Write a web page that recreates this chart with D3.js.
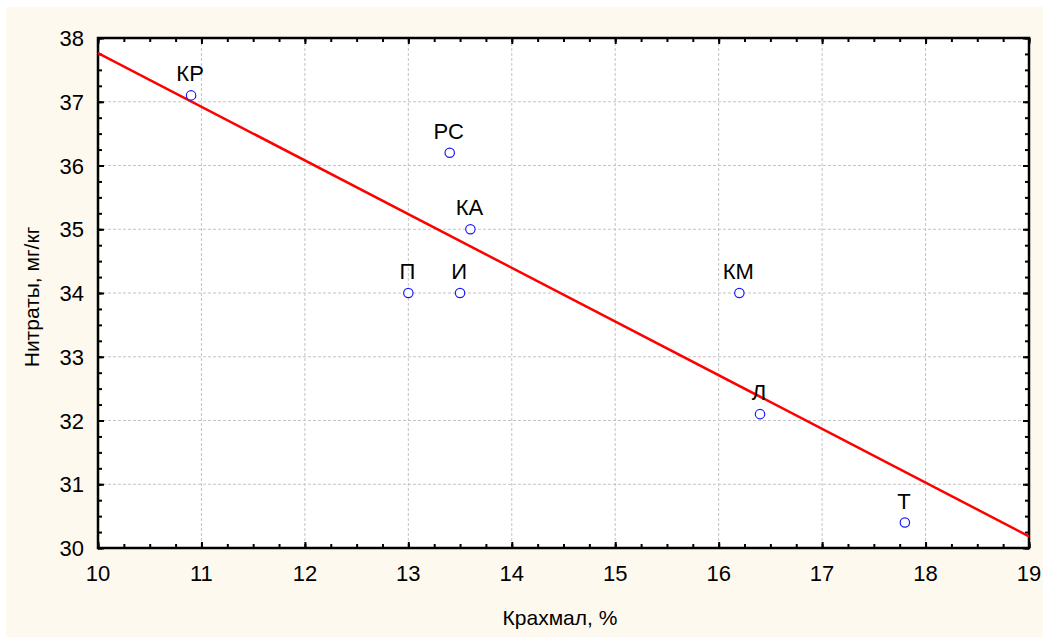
<!DOCTYPE html>
<html><head><meta charset="utf-8">
<script src="https://cdn.jsdelivr.net/npm/d3@7/dist/d3.min.js"></script>
<style>body{margin:0;background:#fff}svg{display:block}text{font-family:"Liberation Sans",Arial,sans-serif}</style>
</head><body>
<svg id="c" width="1043" height="637"></svg>
<script>
const labels = ["КР","РС","КА","П","И","КМ","Л","Т"];
const starch = [10.9,13.4,13.6,13.0,13.5,16.2,16.4,17.8];
const nitrates = [37.1,36.2,35.0,34.0,34.0,34.0,32.1,30.4];
const xTicks = [10,11,12,13,14,15,16,17,18,19];
const yTicks = [30,31,32,33,34,35,36,37,38];
const xTitle = "Крахмал, %";
const yTitle = "Нитраты, мг/кг";

const svg = d3.select("#c");
svg.append("rect").attr("x",6).attr("y",7).attr("width",1037).attr("height",630).attr("fill","#fdf9ef");
const L=98,R=1029,T=38,B=548;
const x=d3.scaleLinear().domain([10,19]).range([L,R]);
const y=d3.scaleLinear().domain([30,38]).range([B,T]);
svg.append("rect").attr("x",L).attr("y",T).attr("width",R-L).attr("height",B-T).attr("fill","#fff");

// grid
const g=svg.append("g");
g.selectAll(".gx").data(xTicks.slice(1,-1)).join("line").attr("x1",d=>x(d)).attr("x2",d=>x(d)).attr("y1",T).attr("y2",B)
 .attr("stroke","#c4c4c4").attr("stroke-dasharray","3,2").attr("stroke-width",1);
g.selectAll(".gy").data(yTicks.slice(1,-1)).join("line").attr("y1",d=>y(d)).attr("y2",d=>y(d)).attr("x1",L).attr("x2",R)
 .attr("stroke","#c4c4c4").attr("stroke-dasharray","3,2").attr("stroke-width",1);

// axes
const minorX=d3.range(10,19.001,0.25), minorY=d3.range(30,38.001,0.25);
function ax(axis,tr){return svg.append("g").attr("transform",tr).call(axis).call(s=>s.select(".domain").remove());}
const ticksStyle=s=>s.selectAll("line").attr("stroke","#000").attr("stroke-width",2);
ax(d3.axisBottom(x).tickValues(minorX).tickSize(-4).tickFormat(""),`translate(0,${B})`).call(ticksStyle);
ax(d3.axisBottom(x).tickValues(xTicks).tickSize(-6).tickFormat(""),`translate(0,${B})`).call(ticksStyle);
ax(d3.axisTop(x).tickValues(minorX).tickSize(-4).tickFormat(""),`translate(0,${T})`).call(ticksStyle);
ax(d3.axisTop(x).tickValues(xTicks).tickSize(-6).tickFormat(""),`translate(0,${T})`).call(ticksStyle);
ax(d3.axisLeft(y).tickValues(minorY).tickSize(-4).tickFormat(""),`translate(${L},0)`).call(ticksStyle);
ax(d3.axisLeft(y).tickValues(yTicks).tickSize(-6).tickFormat(""),`translate(${L},0)`).call(ticksStyle);
ax(d3.axisRight(y).tickValues(minorY).tickSize(-4).tickFormat(""),`translate(${R},0)`).call(ticksStyle);
ax(d3.axisRight(y).tickValues(yTicks).tickSize(-6).tickFormat(""),`translate(${R},0)`).call(ticksStyle);

svg.append("rect").attr("x",L).attr("y",T).attr("width",R-L).attr("height",B-T).attr("fill","none").attr("stroke","#000").attr("stroke-width",2.5);

// tick labels
svg.selectAll(".xl").data(xTicks).join("text").attr("x",d=>x(d)).attr("y",B+33).attr("text-anchor","middle")
 .attr("font-size",22).attr("fill","#000").text(d=>d);
svg.selectAll(".yl").data(yTicks).join("text").attr("x",L-14).attr("y",d=>y(d)+8).attr("text-anchor","end")
 .attr("font-size",22).attr("fill","#000").text(d=>d);

svg.append("text").attr("x",560).attr("y",625).attr("text-anchor","middle").attr("font-size",21).text(xTitle);
svg.append("text").attr("transform","translate(39,297) rotate(-90)").attr("text-anchor","middle").attr("font-size",21).text(yTitle);

// regression
const n=starch.length, mx=d3.mean(starch), my=d3.mean(nitrates);
let sxy=0,sxx=0; for(let i=0;i<n;i++){sxy+=(starch[i]-mx)*(nitrates[i]-my); sxx+=(starch[i]-mx)**2;}
const b=sxy/sxx, a=my-b*mx;
svg.append("clipPath").attr("id","cp").append("rect").attr("x",L).attr("y",T).attr("width",R-L).attr("height",B-T);
svg.append("line").attr("clip-path","url(#cp)").attr("x1",x(10)).attr("y1",y(a+b*10)).attr("x2",x(19)).attr("y2",y(a+b*19))
 .attr("stroke","#f00").attr("stroke-width",2.5);

// points
const pts=starch.map((v,i)=>({x:v,y:nitrates[i],l:labels[i]}));
svg.selectAll(".pt").data(pts).join("circle").attr("cx",d=>x(d.x)).attr("cy",d=>y(d.y)).attr("r",4.7)
 .attr("fill","#fff").attr("stroke","#1a1aff").attr("stroke-width",1.2);
svg.selectAll(".lb").data(pts).join("text").attr("x",d=>x(d.x)-1).attr("y",d=>y(d.y)-14).attr("text-anchor","middle")
 .attr("font-size",22).attr("fill","#000").text(d=>d.l);
</script>
</body></html>
